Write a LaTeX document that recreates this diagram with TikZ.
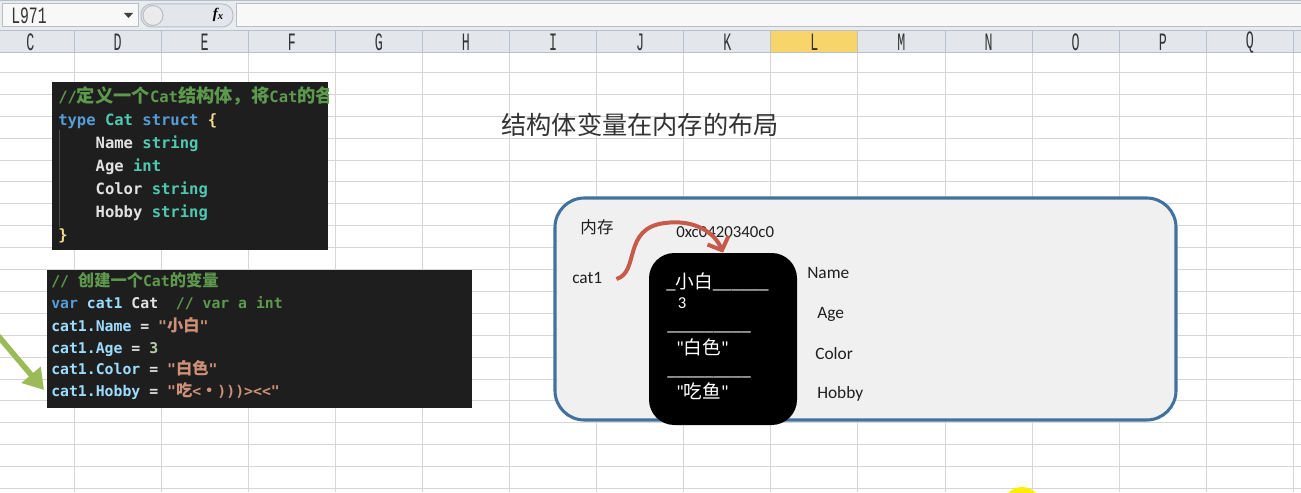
\documentclass[tikz,border=0pt]{standalone}
\usepackage{fontspec}
\setmainfont{Carlito}[Ligatures=TeXOff]
\newfontfamily\cjk{Noto Sans CJK SC}
\newfontfamily\codefont{DejaVu Sans Mono}[Ligatures=TeXOff]
\newfontfamily\hdrfont{Liberation Mono}
\newfontfamily\serifit{Liberation Serif}
\usetikzlibrary{arrows.meta,calc}
\definecolor{codebg}{HTML}{1E1E1E}
\definecolor{cmt}{HTML}{5E9A4E}
\definecolor{kw}{HTML}{569CD6}
\definecolor{ty}{HTML}{4EC9B0}
\definecolor{fld}{HTML}{E2E2E2}
\definecolor{vr}{HTML}{9CDCFE}
\definecolor{strc}{HTML}{CE9178}
\definecolor{num}{HTML}{B5CEA8}
\definecolor{brace}{HTML}{F2D98A}
\definecolor{gridc}{HTML}{D6D6D6}
\definecolor{barbg}{HTML}{E9ECEF}
\definecolor{boxw}{HTML}{F8F8F8}
\definecolor{boxb}{HTML}{B8BEC6}
\definecolor{hdrbg}{HTML}{E3E7EC}
\definecolor{hdrsep}{HTML}{B9C0C9}
\definecolor{hdrL}{HTML}{F8D56A}
\definecolor{memfill}{HTML}{F0F0F0}
\definecolor{memline}{HTML}{41719C}
\definecolor{redc}{HTML}{C65B4C}
\definecolor{greenc}{HTML}{9BBB59}
\definecolor{titlec}{HTML}{333333}
\definecolor{labelc}{HTML}{1E1E1E}
\definecolor{yel}{HTML}{FFEE00}
\newcommand\cjA[1]{{\cjk\bfseries\fontsize{13.7pt}{14pt}\selectfont #1}}
\newcommand\cjB[1]{{\cjk\bfseries\fontsize{12.2pt}{14pt}\selectfont #1}}
\newcommand\cjW[1]{{\cjk\fontsize{14pt}{16pt}\selectfont #1}}
\begin{document}
\begin{tikzpicture}[x=0.75pt,y=-0.75pt,
  txt/.style={inner sep=0pt, anchor=base west},
  cA/.style={txt, font=\codefont\bfseries\fontsize{11.65pt}{14pt}\selectfont},
  cB/.style={txt, font=\codefont\bfseries\fontsize{11.1pt}{14pt}\selectfont},
  lbl/.style={inner sep=0pt, anchor=west, text=labelc, font=\fontsize{13pt}{15pt}\selectfont},
  wt/.style={inner sep=0pt, anchor=base west, text=white, font=\fontsize{14pt}{16pt}\selectfont},
  gridline/.style={draw=gridc, line width=0.75pt},
  hdrtxt/.style={inner sep=0pt, font=\hdrfont\fontsize{12.5pt}{13pt}\selectfont, text=black!80},
  membox/.style={fill=memfill, draw=memline, line width=2.3pt, rounded corners=22pt},
  blackbox/.style={fill=black, draw=none, rounded corners=19pt, inner sep=0pt, minimum width=111pt, minimum height=129pt},
  redarr/.style={draw=redc, line width=3pt, -{Straight Barb[length=8pt,width=17pt]}},
  garr/.style={draw=greenc, line width=4.2pt, -{Triangle[length=15pt,width=18pt]}}
]
\useasboundingbox (0,0) rectangle (1301,492);
\fill[white] (0,0) rectangle (1301,492);
% grid
\foreach \k in {0,...,14} \draw[gridline] (74+87.1*\k,52) -- (74+87.1*\k,492);
\foreach \r in {1,...,20} \draw[gridline] (0,50.5+21.9*\r) -- (1301,50.5+21.9*\r);
% formula bar
\fill[barbg] (0,0) rectangle (1301,31);
\draw[boxb, line width=1pt] (0,0.7) -- (1301,0.7);
\draw[fill=boxw, draw=boxb, line width=0.75pt] (2,4) rectangle (138,27);
\node[hdrtxt, anchor=west, font=\hdrfont\fontsize{13pt}{14pt}\selectfont] (nbt) at (11,15.5) {\scalebox{0.85}[1.35]{L971}};
\fill[black!75] (124,13) -- (133,13) -- (128.5,18) -- cycle;
\draw[fill=hdrbg, draw=boxb, line width=0.75pt, rounded corners=8pt] (141,4) rectangle (233,27);
\draw[fill=white!92!black, draw=boxb, line width=0.75pt] (153,15.5) circle[radius=7.5pt];
\node[inner sep=0pt, font=\serifit\bfseries\itshape\fontsize{11pt}{12pt}\selectfont] (fx) at (218,15) {f\raisebox{-1pt}{\fontsize{8pt}{9pt}\selectfont x}};
\draw[fill=boxw, draw=boxb, line width=0.75pt] (236,4) rectangle (1305,27);
% header row
\fill[hdrbg] (0,31) rectangle (1301,52);
\fill[hdrL] (74+87.1*8,31) rectangle (74+87.1*9,52);
\draw[draw=hdrsep, line width=0.75pt] (0,31) -- (1301,31);
\draw[draw=hdrsep, line width=0.75pt] (0,52.5) -- (1301,52.5);
\foreach \k in {0,...,14} \draw[draw=hdrsep, line width=0.75pt] (74+87.1*\k,31) -- (74+87.1*\k,52);
\foreach \L [count=\i from 0] in {C,D,E,F,G,H,I,J,K,L,M,N,O,P,Q}
  \node[hdrtxt] (h\i) at (74+87.1*\i-43.55,42.5) {\scalebox{0.8}[1.5]{\L}};
% code box 1
\begin{scope}
\clip (52,82) rectangle (328,250);
\fill[codebg] (52,82) rectangle (328,250);
\draw[draw=black!70, line width=0.75pt] (59,130) -- (59,227);
\node[cA, text=cmt] (a1) at (58,102) {//\cjA{定义一个}Cat\cjA{结构体，将}Cat\cjA{的各}};
\node[cA] (a2) at (58,125) {\textcolor{kw}{type} \textcolor{ty}{Cat} \textcolor{kw}{struct} \textcolor{brace}{\{}};
\node[cA] (a3) at (95.4,148) {\textcolor{fld}{Name} \textcolor{ty}{string}};
\node[cA] (a4) at (95.4,171) {\textcolor{fld}{Age} \textcolor{ty}{int}};
\node[cA] (a5) at (95.4,194) {\textcolor{fld}{Color} \textcolor{ty}{string}};
\node[cA] (a6) at (95.4,217) {\textcolor{fld}{Hobby} \textcolor{ty}{string}};
\node[cA, text=brace] (a7) at (58,240) {\}};
\end{scope}
% code box 2
\fill[codebg] (47,270) rectangle (472,408);
\node[cB, text=cmt] (b1) at (51,286) {// \cjB{创建一个}Cat\cjB{的变量}};
\node[cB] (b2) at (51,308) {\textcolor{kw}{var} \textcolor{vr}{cat1} \textcolor{fld}{Cat}};
\node[cB, text=cmt] (b2c) at (175.6,308) {// var a int};
\node[cB] (b3) at (51,331) {\textcolor{vr}{cat1.Name} \textcolor{fld}{=} \textcolor{strc}{"\cjB{小白}"}};
\node[cB] (b4) at (51,353) {\textcolor{vr}{cat1.Age} \textcolor{fld}{=} \textcolor{num}{3}};
\node[cB] (b5) at (51,374) {\textcolor{vr}{cat1.Color} \textcolor{fld}{=} \textcolor{strc}{"\cjB{白色}"}};
\node[cB] (b6) at (51,396) {\textcolor{vr}{cat1.Hobby} \textcolor{fld}{=} \textcolor{strc}{"\cjB{吃}<\cjB{・})))><<"}};
% green arrow
\coordinate (g0) at (-6,331);
\coordinate (g1) at (44,390);
\draw[garr] (g0) -- (g1);
% title
\node[inner sep=0pt, text=titlec, font=\cjk\fontsize{18.9pt}{20pt}\selectfont] (title) at (640,125) {结构体变量在内存的布局};
% memory box
\draw[membox] (555,198) rectangle (1176,420);
\node[inner sep=0pt, text=labelc, font=\cjk\fontsize{12.4pt}{14pt}\selectfont] (nc) at (597,227) {内存};
\node[lbl, font=\fontsize{12.6pt}{14pt}\selectfont] (addr) at (676,232) {0xc0420340c0};
\node[lbl] (cat1) at (572,278) {cat1};
\node[blackbox] (blk) at (723,339) {};
\node[wt] (v1) at (666,288) {\_\cjW{小白}\_\_\_\_\_\_};
\node[inner sep=0pt, text=white, font=\fontsize{12.5pt}{13pt}\selectfont] (v2) at (682,303) {3};
\node[wt] (s1) at (667,330) {\_\_\_\_\_\_\_\_\_};
\node[wt, anchor=west] (v3) at (676,347) {"\cjW{白色}"};
\node[wt] (s2) at (667,375) {\_\_\_\_\_\_\_\_\_};
\node[wt, anchor=west] (v4) at (676,391) {"\cjW{吃鱼}"};
\node[lbl] (ln) at (807,273) {Name};
\node[lbl] (la) at (817,314) {Age};
\node[lbl] (lc) at (815,354) {Color};
\node[lbl] (lh) at (817,394) {Hobby};
\draw[redarr] ($(cat1.east)+(14,1)$) .. controls (640,272) and (622,228) .. (665,223) .. controls (695,219) and (715,233) .. (blk.north);
% yellow cursor highlight
\begin{scope}
\clip (0,0) rectangle (1301,492);
\fill[yel] (1022,506) circle[radius=14.25pt];
\end{scope}
\end{tikzpicture}
\end{document}
